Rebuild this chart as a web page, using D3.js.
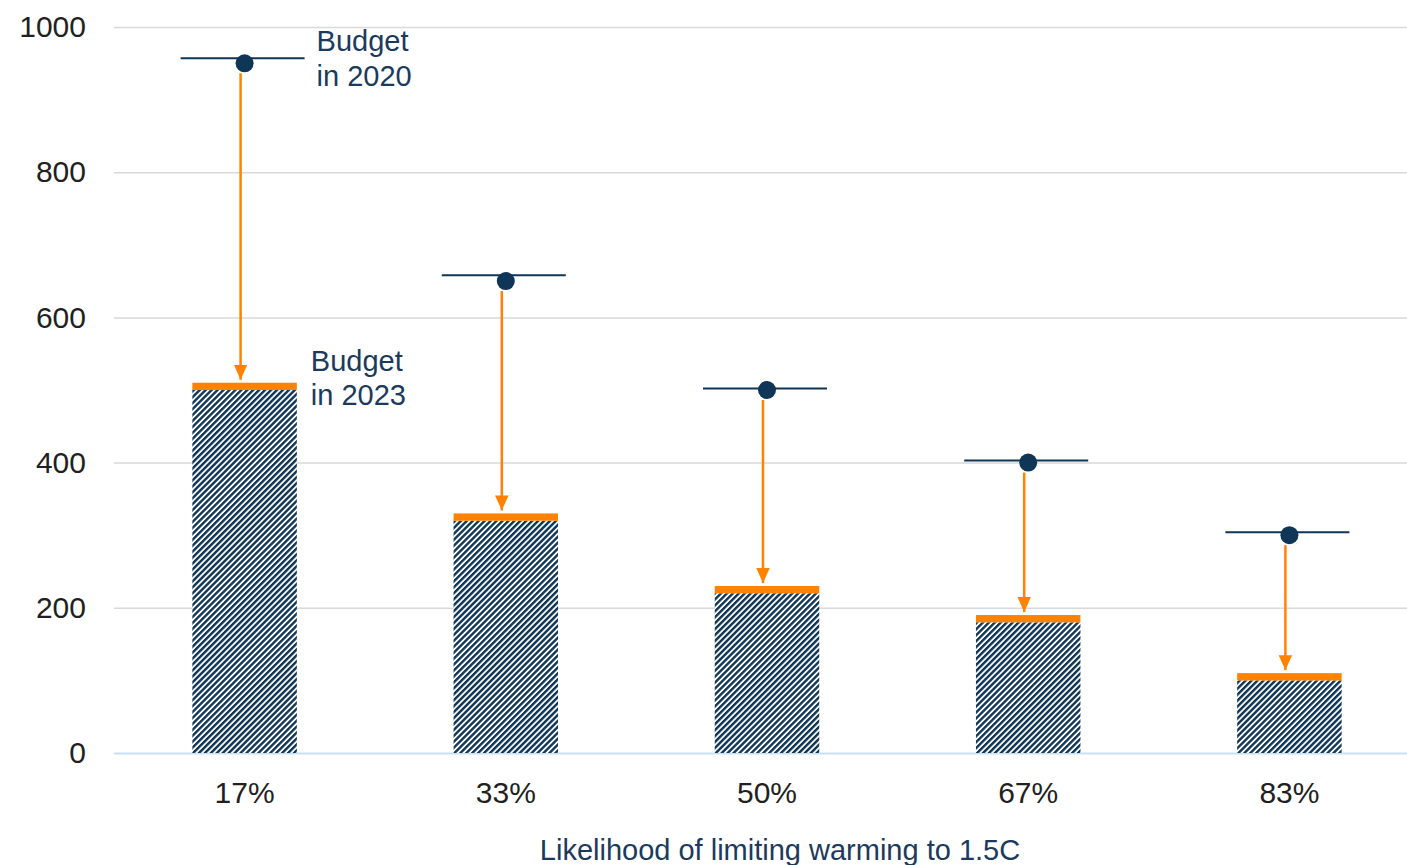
<!DOCTYPE html>
<html>
<head>
<meta charset="utf-8">
<script src="https://cdn.jsdelivr.net/npm/d3@7"></script>
<style>
  body { margin: 0; background: #fff; }
  text { font-family: "Liberation Sans", Arial, sans-serif; }
</style>
</head>
<body>
<div id="chart"></div>
<script>
// categories and values
var categories = ["17%", "33%", "50%", "67%", "83%"];
var budget2023 = [500, 320, 220, 180, 100];
var budget2023Top = [510, 330, 230, 190, 110];
var budget2020 = [950, 650, 500, 400, 300];
var budget2020Line = [957, 658, 502, 403, 304];
var yTicks = [0, 200, 400, 600, 800, 1000];

var navy = "#0f3557",
  orange = "#ff8200";

var width = 1407, height = 865;

var svg = d3.select("#chart")
  .append("svg")
  .attr("width", width)
  .attr("height", height);

// hatch for the bars
var defs = svg.append("defs");
defs.append("pattern")
  .attr("id", "hatch")
  .attr("patternUnits", "userSpaceOnUse")
  .attr("width", 4.2)
  .attr("height", 4.2)
  .attr("patternTransform", "rotate(45)")
  .call(function (p) {
    p.append("rect").attr("width", 4.2).attr("height", 4.2).attr("fill", "#fff");
    p.append("rect").attr("width", 2.4).attr("height", 4.2).attr("fill", navy);
  });

defs.append("marker")
  .attr("id", "arrow")
  .attr("viewBox", "0 0 10 10")
  .attr("refX", 10)
  .attr("refY", 5)
  .attr("markerWidth", 15)
  .attr("markerHeight", 15)
  .attr("markerUnits", "userSpaceOnUse")
  .attr("orient", "auto")
  .append("path")
  .attr("d", "M0,0.5 L10,5 L0,9.5 Z")
  .attr("fill", orange);

var x = d3.scaleBand()
  .domain(categories)
  .range([114, 1420])
  .paddingInner(0.6)
  .paddingOuter(0.3);

var y = d3.scaleLinear()
  .domain([0, 1000])
  .range([753, 27]);

// gridlines
var yAxis = svg.append("g")
  .attr("transform", "translate(114,0)")
  .call(d3.axisLeft(y).tickValues(yTicks).tickSize(-1300).tickPadding(28).tickFormat(d3.format("d")));
yAxis.select(".domain").remove();
yAxis.selectAll(".tick line")
  .attr("stroke", function (d) { return d === 0 ? "#c9dff2" : "#d9d9d9"; })
  .attr("stroke-width", function (d) { return d === 0 ? 2 : 1.5; });
yAxis.selectAll(".tick text")
  .attr("font-size", 30)
  .attr("fill", "#231f20");

var rows = categories.map(function (c, i) {
  return { cat: c, b23: budget2023[i], top: budget2023Top[i], b20: budget2020[i], line: budget2020Line[i] };
});

function mid(d) { return x(d.cat) + x.bandwidth() / 2; }

// hatched bars
svg.selectAll(".bar")
  .data(rows)
  .enter()
  .append("rect")
  .attr("class", "bar")
  .attr("x", function (d) { return x(d.cat); })
  .attr("y", function (d) { return y(d.b23); })
  .attr("width", x.bandwidth())
  .attr("height", function (d) { return y(0) - y(d.b23); })
  .attr("fill", "url(#hatch)");

// orange caps
svg.selectAll(".cap")
  .data(rows)
  .enter()
  .append("rect")
  .attr("class", "cap")
  .attr("x", function (d) { return x(d.cat); })
  .attr("y", function (d) { return y(d.top); })
  .attr("width", x.bandwidth())
  .attr("height", function (d) { return y(d.b23) - y(d.top); })
  .attr("fill", orange);

// 2020 markers
svg.selectAll(".mline")
  .data(rows)
  .enter()
  .append("line")
  .attr("x1", function (d) { return mid(d) - 64; })
  .attr("x2", function (d) { return mid(d) + 60; })
  .attr("y1", function (d) { return y(d.line); })
  .attr("y2", function (d) { return y(d.line); })
  .attr("stroke", navy)
  .attr("stroke-width", 2);

// arrows
svg.selectAll(".arrow")
  .data(rows)
  .enter()
  .append("line")
  .attr("x1", function (d) { return mid(d) - 4; })
  .attr("x2", function (d) { return mid(d) - 4; })
  .attr("y1", function (d) { return y(d.b20) + 10; })
  .attr("y2", function (d) { return y(d.top) - 3; })
  .attr("stroke", orange)
  .attr("stroke-width", 2.5)
  .attr("marker-end", "url(#arrow)");

svg.selectAll(".dot")
  .data(rows)
  .enter()
  .append("circle")
  .attr("cx", mid)
  .attr("cy", function (d) { return y(d.b20); })
  .attr("r", 9)
  .attr("fill", navy);

// category labels
svg.selectAll(".xlab")
  .data(categories)
  .enter()
  .append("text")
  .attr("x", function (d) { return x(d) + x.bandwidth() / 2; })
  .attr("y", 803)
  .attr("text-anchor", "middle")
  .attr("font-size", 30)
  .attr("fill", "#231f20")
  .text(function (d) { return d; });

svg.append("text")
  .attr("x", 780)
  .attr("y", 860)
  .attr("text-anchor", "middle")
  .attr("font-size", 29)
  .attr("fill", "#1b3a5c")
  .text("Likelihood of limiting warming to 1.5C");

// annotations
function note(x0, y0, lines) {
  var t = svg.append("text")
    .attr("x", x0)
    .attr("y", y0)
    .attr("font-size", 29)
    .attr("fill", "#1b3a5c");
  lines.forEach(function (s, i) {
    t.append("tspan").attr("x", x0).attr("dy", i ? 34.5 : 0).text(s);
  });
}
note(x(categories[0]) + x.bandwidth() / 2 + 72, y(budget2020[0]) - 12, ["Budget", "in 2020"]);
note(x(categories[0]) + x.bandwidth() + 14, y(budget2023Top[0]) - 12, ["Budget", "in 2023"]);
</script>
</body>
</html>
